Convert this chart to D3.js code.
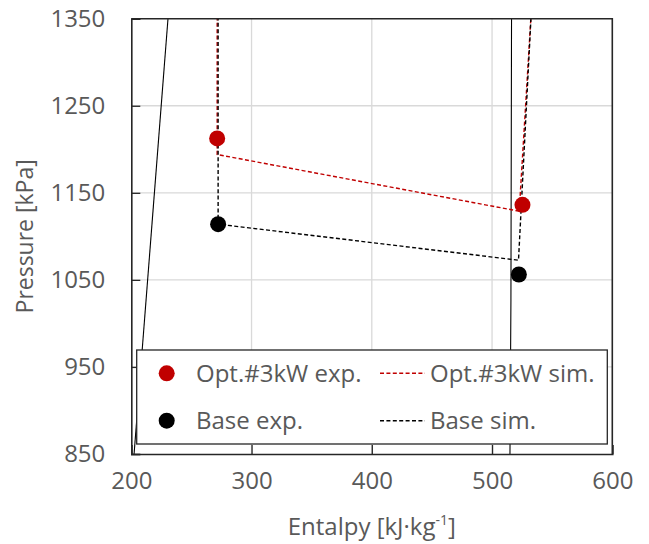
<!DOCTYPE html>
<html>
<head>
<meta charset="utf-8">
<script src="https://cdn.jsdelivr.net/npm/d3@7"></script>
<style>
  body { margin: 0; background: #fff; }
  text { font-family: "Open Sans", "Noto Sans", sans-serif; fill: #595959; }
</style>
</head>
<body>
<div id="chart"></div>
<script>
// Data: enthalpy [kJ/kg], pressure [kPa]
var xTicks = [200, 300, 400, 500, 600];
var yTicks = [850, 950, 1050, 1150, 1250, 1350];

// saturation lines (liquid / vapour)
var satLiquid = [[202.3, 850], [230.5, 1350]];
var satVapour = [[514.9, 850], [515.7, 1027], [516.2, 1350]];

// experimental points
var optExp = [[271.4, 1212.5], [525.3, 1136.2]];
var baseExp = [[272.2, 1114], [522.3, 1056.2]];

// simulated cycles
var optSim = [[271.4, 1360], [271.4, 1194], [522.6, 1128.9], [532.7, 1360]];
var baseSim = [[272.2, 1360], [272.2, 1114], [522.0, 1072.6], [532.7, 1360]];

var legendNames = ["Opt.#3kW exp.", "Base exp.", "Opt.#3kW sim.", "Base sim."];
var red = "#c00000";

// Define svg size
var svgWidth = 649;
var svgHeight = 544;

var margin = { top: 18.7, right: 36.7, bottom: 90, left: 131.3 };
var width = svgWidth - margin.left - margin.right;
var height = svgHeight - margin.top - margin.bottom;

var svg = d3.select("#chart")
  .append("svg")
  .attr("width", svgWidth)
  .attr("height", svgHeight);

var chartGroup = svg.append("g")
  .attr("transform", `translate(${margin.left}, ${margin.top})`);

// scales
var xScale = d3.scaleLinear().domain([200, 600]).range([0, width]);
var yScale = d3.scaleLinear().domain([850, 1350]).range([height, 0]);

// clip for lines running off the top
chartGroup.append("clipPath")
  .attr("id", "clip")
  .append("rect")
  .attr("width", width)
  .attr("height", height);

// gridlines
chartGroup.selectAll(".xgrid")
  .data(xTicks.slice(1, -1))
  .enter()
  .append("line")
  .attr("x1", d => xScale(d))
  .attr("x2", d => xScale(d))
  .attr("y1", 0)
  .attr("y2", height)
  .attr("stroke", "#d9d9d9")
  .attr("stroke-width", 1.3);

chartGroup.selectAll(".ygrid")
  .data(yTicks.slice(1, -1))
  .enter()
  .append("line")
  .attr("x1", 0)
  .attr("x2", width)
  .attr("y1", d => yScale(d))
  .attr("y2", d => yScale(d))
  .attr("stroke", "#d9d9d9")
  .attr("stroke-width", 1.3);

var line = d3.line()
  .x(d => xScale(d[0]))
  .y(d => yScale(d[1]));

var lines = chartGroup.append("g").attr("clip-path", "url(#clip)");

// saturation dome
[satLiquid, satVapour].forEach(function(s) {
  lines.append("path")
    .attr("d", line(s))
    .attr("fill", "none")
    .attr("stroke", "#000")
    .attr("stroke-width", 1.1);
});

// simulated cycles
lines.append("path")
  .attr("d", line(optSim))
  .attr("fill", "none")
  .attr("stroke", red)
  .attr("stroke-width", 1.4)
  .attr("stroke-dasharray", "4,2.4");

lines.append("path")
  .attr("d", line(baseSim))
  .attr("fill", "none")
  .attr("stroke", "#000")
  .attr("stroke-width", 1.4)
  .attr("stroke-dasharray", "4,2.4");

// experimental points
chartGroup.selectAll(".opt")
  .data(optExp)
  .enter()
  .append("circle")
  .attr("cx", d => xScale(d[0]))
  .attr("cy", d => yScale(d[1]))
  .attr("r", 8)
  .attr("fill", red);

chartGroup.selectAll(".base")
  .data(baseExp)
  .enter()
  .append("circle")
  .attr("cx", d => xScale(d[0]))
  .attr("cy", d => yScale(d[1]))
  .attr("r", 8)
  .attr("fill", "#000");

// legend
var legend = svg.append("g");

legend.append("rect")
  .attr("x", 136.7)
  .attr("y", 350)
  .attr("width", 470.6)
  .attr("height", 94)
  .attr("fill", "#fff")
  .attr("stroke", "#262626")
  .attr("stroke-width", 1.3);

var rowY = [373.3, 420.7];

legend.selectAll(".lmark")
  .data([red, "#000"])
  .enter()
  .append("circle")
  .attr("cx", 166.7)
  .attr("cy", (d, i) => rowY[i])
  .attr("r", 8)
  .attr("fill", d => d);

legend.selectAll(".lline")
  .data([red, "#000"])
  .enter()
  .append("line")
  .attr("x1", 380)
  .attr("x2", 425)
  .attr("y1", (d, i) => rowY[i])
  .attr("y2", (d, i) => rowY[i])
  .attr("stroke", d => d)
  .attr("stroke-width", 1.4)
  .attr("stroke-dasharray", "4,2.4");

legend.selectAll(".ltext")
  .data(legendNames)
  .enter()
  .append("text")
  .attr("x", (d, i) => i < 2 ? 196 : 430)
  .attr("y", (d, i) => rowY[i % 2] + 8.5)
  .style("font-size", "24px")
  .text(d => d);

// axes with inside ticks
var bottomAxis = d3.axisBottom(xScale).tickValues(xTicks).tickFormat(d3.format("d")).tickSize(-9).tickPadding(18);
var leftAxis = d3.axisLeft(yScale).tickValues(yTicks).tickFormat(d3.format("d")).tickSize(-9).tickPadding(26);

var xAxis = chartGroup.append("g")
  .attr("transform", `translate(0, ${height})`)
  .call(bottomAxis);

var yAxis = chartGroup.append("g")
  .call(leftAxis);

[xAxis, yAxis].forEach(function(a) {
  a.select(".domain").attr("stroke", "#262626").attr("stroke-width", 1.6);
  a.selectAll(".tick line").attr("stroke", "#262626").attr("stroke-width", 1.3);
  a.selectAll(".tick text")
    .style("font-size", "24px")
    .style("font-family", "'Open Sans', sans-serif")
    .attr("fill", "#595959");
});

// top and right border of plot area
chartGroup.append("path")
  .attr("d", `M0,0H${width}V${height}`)
  .attr("fill", "none")
  .attr("stroke", "#262626")
  .attr("stroke-width", 1.6);

// axis titles
var xTitle = svg.append("text")
  .attr("x", margin.left + width / 2)
  .attr("y", 535)
  .attr("text-anchor", "middle")
  .style("font-size", "24px");
xTitle.append("tspan").text("Entalpy [kJ·kg");
xTitle.append("tspan").attr("dy", -10).style("font-size", "14px").text("-1");
xTitle.append("tspan").attr("dy", 10).text("]");

svg.append("text")
  .attr("transform", `translate(33, ${margin.top + height / 2}) rotate(-90)`)
  .attr("text-anchor", "middle")
  .style("font-size", "23px")
  .text("Pressure [kPa]");
</script>
</body>
</html>
